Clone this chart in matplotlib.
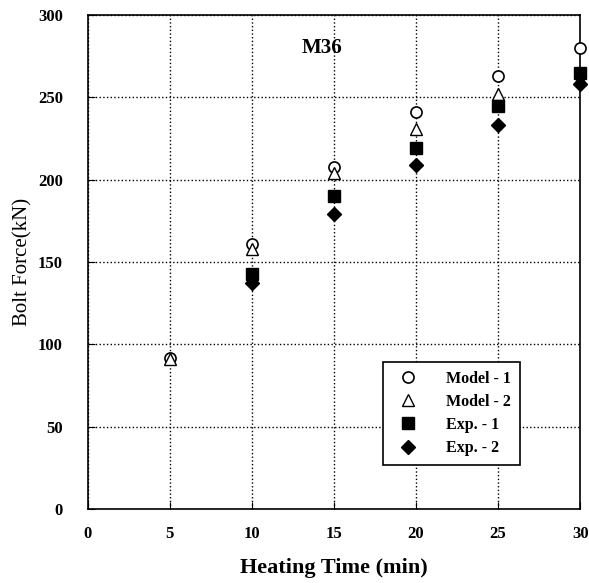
import numpy as np
import matplotlib.pyplot as plt

plt.rcParams['font.family'] = 'Liberation Serif'

t = [5, 10, 15, 20, 25, 30]
t_exp = [10, 15, 20, 25, 30]
model1 = [92, 161, 208, 241, 263, 280]
model2 = [91, 158, 204, 231, 252, 261]
exp1 = [143, 190, 219, 245, 265]
exp2 = [137, 179, 209, 233, 258]

fig = plt.figure(figsize=(5.89, 5.83), dpi=100)
ax = fig.add_axes([0.149, 0.127, 0.836, 0.847])

ax.plot(t, model1, 'o', mfc='white', mec='black', ms=8, mew=1.2, label='Model - 1', zorder=3, clip_on=False)
ax.plot(t, model2, '^', mfc='white', mec='black', ms=8, mew=1.0, label='Model - 2', zorder=3, clip_on=False)
ax.plot(t_exp, exp1, 's', color='black', ms=8, label='Exp. - 1', zorder=3, clip_on=False)
ax.plot(t_exp, exp2, 'D', color='black', ms=7, label='Exp. - 2', zorder=3, clip_on=False)

ax.set_xlim(0, 30)
ax.set_ylim(0, 300)
ax.set_xticks(range(0, 31, 5))
ax.set_yticks(range(0, 301, 50))
ax.grid(True, color='black', linestyle=':', linewidth=1.0)
ax.tick_params(direction='in', length=5, labelsize=12)
ax.tick_params(axis='x', pad=12)
ax.tick_params(axis='y', pad=18)
for lbl in ax.get_xticklabels() + ax.get_yticklabels():
    lbl.set_fontweight('bold')
for s in ax.spines.values():
    s.set_linewidth(1.2)

ax.set_xlabel('Heating Time (min)', fontsize=16, fontweight='bold', labelpad=12)
ax.set_ylabel('Bolt Force(kN)', fontsize=15, labelpad=4)
ax.text(14.3, 280, 'M36', fontsize=15, fontweight='bold', ha='center', va='center')

leg = ax.legend(loc='lower right', bbox_to_anchor=(0.878, 0.089),
                prop={'weight': 'bold', 'size': 11.5}, fancybox=False,
                edgecolor='black', framealpha=1, handletextpad=1.4,
                borderpad=0.55, labelspacing=0.45, borderaxespad=0)
leg.get_frame().set_linewidth(1.2)

fig.savefig('out.png', dpi=100)
